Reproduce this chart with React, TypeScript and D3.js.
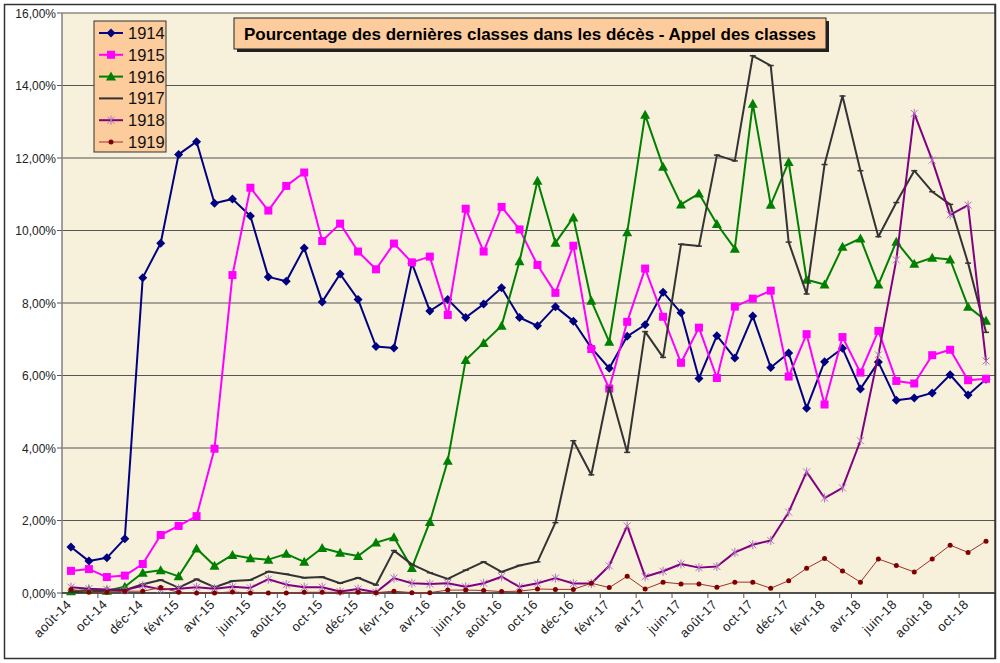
import React from 'react';
import * as d3 from 'd3';

const months = [
  'août-14', 'sept-14', 'oct-14', 'nov-14', 'déc-14', 'janv-15', 'févr-15', 'mars-15', 'avr-15', 'mai-15', 'juin-15', 'juil-15',
  'août-15', 'sept-15', 'oct-15', 'nov-15', 'déc-15', 'janv-16', 'févr-16', 'mars-16', 'avr-16', 'mai-16', 'juin-16', 'juil-16',
  'août-16', 'sept-16', 'oct-16', 'nov-16', 'déc-16', 'janv-17', 'févr-17', 'mars-17', 'avr-17', 'mai-17', 'juin-17', 'juil-17',
  'août-17', 'sept-17', 'oct-17', 'nov-17', 'déc-17', 'janv-18', 'févr-18', 'mars-18', 'avr-18', 'mai-18', 'juin-18', 'juil-18',
  'août-18', 'sept-18', 'oct-18', 'nov-18',
];

const c1914 = [1.27, 0.88, 0.97, 1.5, 8.7, 9.65, 12.1, 12.45, 10.75, 10.87, 10.4, 8.72, 8.6, 9.52, 8.03, 8.8, 8.1, 6.8, 6.76, 9.1, 7.78, 8.1, 7.6, 7.97, 8.42, 7.6, 7.37, 7.9, 7.5, 6.76, 6.2, 7.08, 7.4, 8.3, 7.73, 5.92, 7.1, 6.48, 7.64, 6.22, 6.62, 5.1, 6.38, 6.75, 5.63, 6.37, 5.32, 5.38, 5.52, 6.02, 5.46, 5.9];
const c1915 = [0.61, 0.66, 0.44, 0.48, 0.8, 1.6, 1.85, 2.12, 3.98, 8.77, 11.18, 10.55, 11.23, 11.6, 9.71, 10.19, 9.42, 8.93, 9.64, 9.12, 9.28, 7.67, 10.6, 9.42, 10.65, 10.03, 9.05, 8.28, 9.58, 6.73, 5.64, 7.48, 8.95, 7.62, 6.35, 7.32, 5.93, 7.9, 8.12, 8.34, 5.97, 7.14, 5.2, 7.06, 6.08, 7.23, 5.85, 5.78, 6.56, 6.71, 5.87, 5.91];
const c1916 = [0.05, 0.08, 0.06, 0.17, 0.56, 0.63, 0.46, 1.23, 0.75, 1.05, 0.96, 0.92, 1.08, 0.86, 1.24, 1.11, 1.02, 1.39, 1.54, 0.69, 1.96, 3.65, 6.43, 6.9, 7.37, 9.15, 11.37, 9.66, 10.36, 8.06, 6.93, 9.95, 13.19, 11.76, 10.72, 11.02, 10.18, 9.5, 13.5, 10.71, 11.89, 8.64, 8.51, 9.55, 9.78, 8.51, 9.69, 9.08, 9.25, 9.2, 7.9, 7.51];
const c1917 = [0.02, 0.04, 0.06, 0.08, 0.24, 0.36, 0.15, 0.38, 0.16, 0.33, 0.36, 0.59, 0.52, 0.42, 0.44, 0.27, 0.42, 0.22, 1.17, 0.79, 0.56, 0.39, 0.63, 0.86, 0.58, 0.76, 0.86, 1.94, 4.2, 3.26, 5.67, 3.88, 7.21, 6.5, 9.62, 9.57, 12.08, 11.92, 14.82, 14.55, 9.68, 8.25, 11.82, 13.71, 11.65, 9.83, 10.77, 11.65, 11.07, 10.72, 9.1, 7.19];
const c1918 = [0.16, 0.12, 0.1, 0.08, 0.2, 0.1, 0.12, 0.16, 0.12, 0.17, 0.14, 0.38, 0.23, 0.16, 0.16, 0.04, 0.11, 0.02, 0.41, 0.27, 0.25, 0.27, 0.17, 0.27, 0.45, 0.17, 0.27, 0.41, 0.26, 0.26, 0.75, 1.85, 0.45, 0.6, 0.8, 0.7, 0.73, 1.12, 1.33, 1.45, 2.23, 3.34, 2.62, 2.9, 4.2, 6.57, 9.19, 13.23, 11.94, 10.43, 10.7, 6.4];
const c1919 = [0.1, 0.02, 0.02, 0.05, 0.05, 0.15, 0.02, 0, 0, 0.03, 0, 0, 0, 0.02, 0.02, 0.02, 0.02, 0.01, 0.05, 0.01, 0.01, 0.08, 0.08, 0.07, 0.04, 0.05, 0.11, 0.1, 0.1, 0.27, 0.15, 0.46, 0.11, 0.3, 0.25, 0.25, 0.16, 0.3, 0.3, 0.13, 0.34, 0.68, 0.95, 0.61, 0.3, 0.94, 0.76, 0.58, 0.94, 1.32, 1.12, 1.43];

const seriesNames = ['1914', '1915', '1916', '1917', '1918', '1919'];
const yTicks = [0, 2, 4, 6, 8, 10, 12, 14, 16];

const styles = [
  { color: '#000080', width: 2, marker: 'diamond', mcolor: '#000080' },
  { color: '#ff00ff', width: 2, marker: 'square', mcolor: '#ff00ff' },
  { color: '#008000', width: 2, marker: 'triangle', mcolor: '#008000' },
  { color: '#333333', width: 2, marker: 'dash', mcolor: '#333333' },
  { color: '#800080', width: 2, marker: 'star', mcolor: '#b070c0' },
  { color: '#a03030', width: 1, marker: 'dot', mcolor: '#800000' },
];

const W = 1000, H = 663;
const left = 62, right = 995, top = 13, bottom = 593;
const font = '"Liberation Sans", Arial, sans-serif';

function Marker({ type, x, y, color, legend = false }) {
  if (type === 'diamond') {
    const r = 4.5;
    return <path d={`M${x},${y - r}L${x + r},${y}L${x},${y + r}L${x - r},${y}Z`} fill={color} />;
  }
  if (type === 'square') return <rect x={x - 4} y={y - 4} width={8} height={8} fill={color} />;
  if (type === 'triangle') return <path d={`M${x},${y - 5}L${x + 5},${y + 4}L${x - 5},${y + 4}Z`} fill={color} />;
  if (type === 'dash') return legend ? null : <line x1={x - 3} x2={x + 3} y1={y} y2={y} stroke={color} strokeWidth={1.5} />;
  if (type === 'star') {
    const r = 3.5;
    return (
      <g stroke={color} strokeWidth={1}>
        <line x1={x - r} x2={x + r} y1={y - r} y2={y + r} />
        <line x1={x - r} x2={x + r} y1={y + r} y2={y - r} />
        <line x1={x} x2={x} y1={y - r - 1} y2={y + r + 1} />
      </g>
    );
  }
  return <circle cx={x} cy={y} r={2.5} fill={color} />;
}

export default function App() {
  const data = [c1914, c1915, c1916, c1917, c1918, c1919];
  const xb = d3.scaleLinear().domain([0, months.length]).range([left, right]);
  const x = (i: number) => xb(i + 0.5);
  const y = d3.scaleLinear().domain([0, 16]).range([bottom, top]);
  const line = d3.line<number>().x((_, i) => x(i)).y(d => y(d));

  const legendX = 94, legendY = 21;

  return (
    <svg width={W} height={H} style={{ position: 'absolute', left: 0, top: 0, background: '#fff' }} fontFamily={font}>
      <rect x={4.5} y={4.5} width={991} height={654} fill="#fff" stroke="#333" strokeWidth={1.5} />
      <rect x={left} y={top} width={right - left} height={bottom - top} fill="#f7f0da" />

      {yTicks.map(t => (
        <g key={t}>
          <line x1={left} x2={right} y1={y(t)} y2={y(t)} stroke="#555" strokeWidth={1} />
          <line x1={left - 5} x2={left} y1={y(t)} y2={y(t)} stroke="#555" />
          <text x={left - 6} y={y(t) + 4.5} textAnchor="end" fontSize={12} fill="#222">
            {t.toFixed(2).replace('.', ',')}%
          </text>
        </g>
      ))}
      <line x1={left} x2={left} y1={top} y2={bottom + 1} stroke="#808080" strokeWidth={1.5} />
      <line x1={right} x2={right} y1={4} y2={659} stroke="#333" strokeWidth={1.5} />
      <line x1={left} x2={right} y1={bottom} y2={bottom} stroke="#333" strokeWidth={1.5} />

      {months.map((m, i) => i % 2 === 0 && (
        <g key={m}>
          <line x1={xb(i)} x2={xb(i)} y1={bottom} y2={bottom + 5} stroke="#555" />
          <text transform={`translate(${x(i) - 2},${bottom + 9}) rotate(-45)`} textAnchor="end" fontSize={13} letterSpacing={0.4} fill="#222" dy="0.35em">
            {m}
          </text>
        </g>
      ))}

      {data.map((vals, s) => (
        <g key={seriesNames[s]}>
          <path d={line(vals) ?? ''} fill="none" stroke={styles[s].color} strokeWidth={styles[s].width} strokeLinejoin="round" />
          {vals.map((v, i) => (
            <Marker key={i} type={styles[s].marker} x={x(i)} y={y(v)} color={styles[s].mcolor} />
          ))}
        </g>
      ))}

      <rect x={legendX} y={legendY} width={72} height={131} fill="#fccc9c" stroke="#333" strokeWidth={1} />
      {seriesNames.map((n, s) => {
        const ly = legendY + 12 + s * 21.8;
        return (
          <g key={n}>
            <line x1={legendX + 5} x2={legendX + 29} y1={ly} y2={ly} stroke={styles[s].color} strokeWidth={styles[s].width} />
            <Marker type={styles[s].marker} x={legendX + 17} y={ly} color={styles[s].mcolor} legend />
            <text x={legendX + 34} y={ly + 6} fontSize={16.5} fill="#111">{n}</text>
          </g>
        );
      })}

      <rect x={237} y={21} width={592} height={31} fill="#222" />
      <rect x={234} y={18} width={592} height={31} fill="#fccc9c" stroke="#222" strokeWidth={1} />
      <text x={530} y={40} textAnchor="middle" fontSize={17} fontWeight="bold" fill="#000">
        Pourcentage des dernières classes dans les décès - Appel des classes
      </text>
    </svg>
  );
}
